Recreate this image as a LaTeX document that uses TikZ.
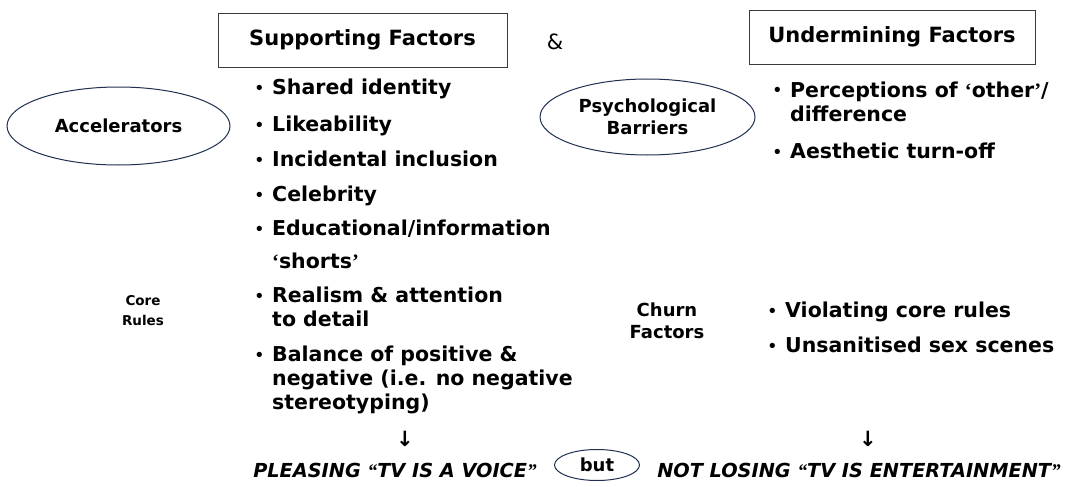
\documentclass[tikz,border=0pt]{standalone}
\usepackage{fontspec}
\setmainfont{DejaVu Sans}
\newfontfamily\qfont{Liberation Serif}
\usetikzlibrary{positioning,shapes.geometric}
\definecolor{ink}{HTML}{000000}
\definecolor{oval}{HTML}{1F3050}
\definecolor{frame}{HTML}{3A3A3A}
\newcommand{\bul}{\llap{\fontsize{15}{15}\selectfont\raisebox{1pt}{•}\hspace{8pt}}}
\newcommand{\openq}{{\qfont\bfseries ‘}}
\newcommand{\closeq}{{\qfont\bfseries ’}}
\tikzset{
  headbox/.style={draw=frame, line width=0.8pt, minimum width=289pt, minimum height=54pt,
                  inner sep=0pt, text=ink, font=\fontsize{21}{24}\selectfont\bfseries},
  oval/.style={ellipse, draw=oval, line width=1pt, inner sep=0pt, align=center,
               font=\fontsize{18}{22}\selectfont\bfseries},
  item/.style={anchor=base west, align=left, inner sep=0pt,
               font=\fontsize{20.5}{24}\selectfont\bfseries},
  tag/.style={align=center, inner sep=0pt, font=\fontsize{18}{22}\selectfont\bfseries},
  down/.style={inner sep=0pt, font=\fontsize{21}{21}\selectfont\bfseries},
  verdict/.style={inner sep=0pt, font=\fontsize{19.3}{22}\selectfont\bfseries\itshape}
}
\begin{document}
\begin{tikzpicture}[x=1pt,y=-1pt]
  \useasboundingbox (0,0) rectangle (1084,487);
  % headings
  \node[headbox] (support) at (362.5,40) {Supporting Factors};
  \node[font=\fontsize{21}{24}\selectfont] (amp) at (555,42) {\&};
  \node[headbox,minimum width=286pt] (undermine) at (892,37) {Undermining Factors};
  % ovals
  \node[oval,minimum width=223pt,minimum height=78pt] (accel) at (118.5,126) {Accelerators};
  \node[oval,minimum width=215pt,minimum height=76pt] (barrier) at (647.5,117) {Psychological\\Barriers};
  % side tags
  \node[tag,font=\fontsize{13.5}{20}\selectfont\bfseries] (core) at (143,311) {Core\\Rules};
  \node[tag] (churn) at (667,321) {Churn\\Factors};
  % supporting items (base = last line)
  \node[item] (s1) at (272,94) {\bul Shared identity};
  \node[item] (s2) at (272,131) {\bul Likeability};
  \node[item] (s3) at (272,166) {\bul Incidental inclusion};
  \node[item] (s4) at (272,201) {\bul Celebrity};
  \node[item] (s5) at (272,268) {\bul Educational/information\\[9pt]\openq shorts\closeq};
  \node[item] (s6) at (272,326) {\bul Realism \& attention\\to detail};
  \node[item] (s7) at (272,409) {\bul Balance of positive \&\\negative (i.e. no negative\\stereotyping)};
  % undermining items
  \node[item] (u1) at (790,121) {\bul Perceptions of \openq other\closeq/\\difference};
  \node[item] (u2) at (790,158) {\bul Aesthetic turn-off};
  \node[item] (c1) at (785,317) {\bul Violating core rules};
  \node[item] (c2) at (785,352) {\bul Unsanitised sex scenes};
  % outcomes
  \node[down] (leftdown) at (405,439) {↓};
  \node[down] (rightdown) at (868,439) {↓};
  \node[verdict] (please) at (395,470) {PLEASING {\qfont\bfseries “}TV IS A VOICE{\qfont\bfseries ”}};
  \node[oval,minimum width=85pt,minimum height=31pt] (but) at (597,465) {but};
  \node[verdict] (lose) at (859,470) {NOT LOSING {\qfont\bfseries “}TV IS ENTERTAINMENT{\qfont\bfseries ”}};
\end{tikzpicture}
\end{document}
